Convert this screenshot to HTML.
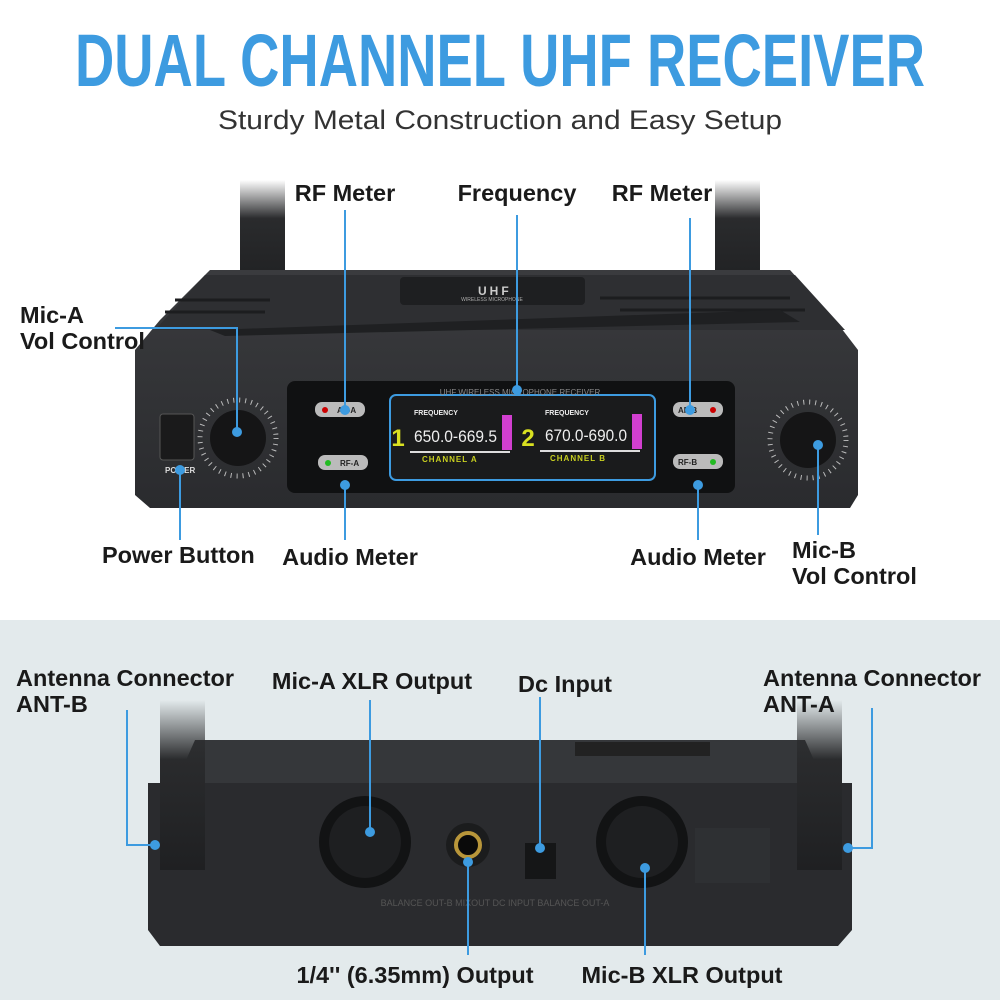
<!DOCTYPE html>
<html><head><meta charset="utf-8"><style>
html,body{margin:0;padding:0;background:#fff}
svg{display:block}
text{font-family:"Liberation Sans",sans-serif}
.lb{font-weight:bold;font-size:23.5px;fill:#1a1a1a}
</style></head><body>
<svg width="1000" height="1000" viewBox="0 0 1000 1000" xmlns="http://www.w3.org/2000/svg">
<defs>
<linearGradient id="ant" x1="0" y1="0" x2="0" y2="1">
<stop offset="0" stop-color="#2a2b2d" stop-opacity="0"/><stop offset="0.35" stop-color="#2a2b2d"/><stop offset="1" stop-color="#1f2022"/>
</linearGradient>
<linearGradient id="body" x1="0" y1="0" x2="0" y2="1">
<stop offset="0" stop-color="#3a3b3e"/><stop offset="1" stop-color="#2a2b2e"/>
</linearGradient>
</defs>
<rect width="1000" height="620" fill="#fff"/>
<rect y="620" width="1000" height="380" fill="#e3eaec"/>
<text x="500" y="86" text-anchor="middle" font-size="74" font-weight="bold" fill="#3d9be0" textLength="850" lengthAdjust="spacingAndGlyphs">DUAL CHANNEL UHF RECEIVER</text>
<text x="500" y="129" text-anchor="middle" font-size="27" fill="#333" textLength="564" lengthAdjust="spacingAndGlyphs">Sturdy Metal Construction and Easy Setup</text>

<!-- top device -->
<rect x="240" y="180" width="45" height="110" fill="url(#ant)"/>
<rect x="715" y="180" width="45" height="110" fill="url(#ant)"/>
<path d="M210 270 L790 270 L835 320 L858 350 L858 495 L850 508 L150 508 L135 495 L135 350 L160 320 Z" fill="url(#body)"/>
<path d="M205 275 L795 275 L845 330 L155 330 Z" fill="#2e2f32"/>
<g stroke="#1c1d1f" stroke-width="3"><path d="M175 300 H270 M165 312 H265 M600 298 H790 M620 310 H805"/></g>
<rect x="400" y="277" width="185" height="28" rx="4" fill="#1e1f21"/>
<text x="478" y="295" font-size="12" font-weight="bold" fill="#ccc" letter-spacing="3">UHF</text>
<text x="492" y="301" font-size="5" fill="#aaa" text-anchor="middle">WIRELESS MICROPHONE</text>
<path d="M210 330 L780 310 L800 322 L225 336 Z" fill="#1f2022"/>
<rect x="287" y="381" width="448" height="112" rx="8" fill="#101112"/>
<rect x="390" y="395" width="265" height="85" rx="6" fill="#1a1b1c" stroke="#3d9be0" stroke-width="2"/>
<text x="520" y="395" font-size="8" fill="#888" text-anchor="middle">UHF WIRELESS MICROPHONE RECEIVER</text>
<text x="398" y="446" font-size="24" font-weight="bold" fill="#d9e021" text-anchor="middle">1</text>
<text x="528" y="446" font-size="24" font-weight="bold" fill="#d9e021" text-anchor="middle">2</text>
<text x="414" y="415" font-size="7" font-weight="bold" fill="#eee">FREQUENCY</text>
<text x="545" y="415" font-size="7" font-weight="bold" fill="#eee">FREQUENCY</text>
<text x="414" y="442" font-size="17" fill="#eee" textLength="83" lengthAdjust="spacingAndGlyphs">650.0-669.5</text>
<text x="545" y="441" font-size="17" fill="#eee" textLength="82" lengthAdjust="spacingAndGlyphs">670.0-690.0</text>
<rect x="502" y="415" width="10" height="35" fill="#d23fd0"/>
<rect x="632" y="414" width="10" height="35" fill="#d23fd0"/>
<rect x="410" y="451" width="100" height="2" fill="#ddd"/>
<rect x="540" y="450" width="100" height="2" fill="#ddd"/>
<text x="422" y="462" font-size="8" font-weight="bold" fill="#c8cf20" letter-spacing="1">CHANNEL  A</text>
<text x="550" y="461" font-size="8" font-weight="bold" fill="#c8cf20" letter-spacing="1">CHANNEL  B</text>
<g font-size="8" font-weight="bold" fill="#222">
<rect x="315" y="402" width="50" height="15" rx="7" fill="#bbb"/><circle cx="325" cy="410" r="3" fill="#c00"/><text x="337" y="413">AF-A</text>
<rect x="318" y="455" width="50" height="15" rx="7" fill="#bbb"/><circle cx="328" cy="463" r="3" fill="#2b2"/><text x="340" y="466">RF-A</text>
<rect x="673" y="402" width="50" height="15" rx="7" fill="#bbb"/><circle cx="713" cy="410" r="3" fill="#c00"/><text x="678" y="413">AF-B</text>
<rect x="673" y="454" width="50" height="15" rx="7" fill="#bbb"/><circle cx="713" cy="462" r="3" fill="#2b2"/><text x="678" y="465">RF-B</text>
</g>
<rect x="160" y="414" width="34" height="46" rx="3" fill="#1a1a1b" stroke="#555"/>
<text x="165" y="473" font-size="8" font-weight="bold" fill="#ddd">POWER</text>
<circle cx="238" cy="438" r="38" fill="none" stroke="#ddd" stroke-width="5" stroke-dasharray="1 5" opacity=".8"/>
<circle cx="238" cy="438" r="28" fill="#151516"/>
<circle cx="808" cy="440" r="38" fill="none" stroke="#ddd" stroke-width="5" stroke-dasharray="1 5" opacity=".8"/>
<circle cx="808" cy="440" r="28" fill="#151516"/>

<!-- bottom device -->
<path d="M175 785 L195 740 L805 740 L825 785 Z" fill="#35373a"/>
<rect x="575" y="742" width="135" height="14" fill="#222"/>
<path d="M148 783 L852 783 L852 930 L838 946 L160 946 L148 930 Z" fill="#2a2b2e"/>
<rect x="160" y="700" width="45" height="170" fill="url(#ant)"/>
<rect x="797" y="700" width="45" height="170" fill="url(#ant)"/>
<circle cx="365" cy="842" r="46" fill="#121314"/>
<circle cx="365" cy="842" r="36" fill="#1e1f21"/>
<circle cx="642" cy="842" r="46" fill="#121314"/>
<circle cx="642" cy="842" r="36" fill="#1e1f21"/>
<circle cx="468" cy="845" r="22" fill="#1b1c1d"/>
<circle cx="468" cy="845" r="12" fill="#0a0a0a" stroke="#b8963a" stroke-width="4"/>
<rect x="525" y="843" width="31" height="36" fill="#151617"/>
<rect x="695" y="828" width="75" height="55" fill="#2e3033"/>
<text x="495" y="906" font-size="9" fill="#555" text-anchor="middle">BALANCE OUT-B      MIXOUT   DC INPUT     BALANCE OUT-A</text>

<!-- connectors -->
<g stroke="#3d9be0" stroke-width="2" fill="none">
<path d="M345 210 V410"/><path d="M517 215 V390"/><path d="M690 218 V410"/>
<path d="M115 328 H237 V432"/><path d="M180 470 V540"/><path d="M345 485 V540"/>
<path d="M698 485 V540"/><path d="M818 445 V535"/>
<path d="M127 710 V845 H155"/><path d="M370 700 V832"/><path d="M540 697 V848"/>
<path d="M872 708 V848 H848"/><path d="M468 862 V955"/><path d="M645 868 V955"/>
</g>
<g fill="#3d9be0">
<circle cx="345" cy="410" r="5"/><circle cx="517" cy="390" r="5"/><circle cx="690" cy="410" r="5"/>
<circle cx="237" cy="432" r="5"/><circle cx="180" cy="470" r="5"/><circle cx="345" cy="485" r="5"/>
<circle cx="698" cy="485" r="5"/><circle cx="818" cy="445" r="5"/>
<circle cx="155" cy="845" r="5"/><circle cx="370" cy="832" r="5"/><circle cx="540" cy="848" r="5"/>
<circle cx="848" cy="848" r="5"/><circle cx="468" cy="862" r="5"/><circle cx="645" cy="868" r="5"/>
</g>

<!-- labels -->
<text class="lb" x="345" y="201" text-anchor="middle">RF Meter</text>
<text class="lb" x="517" y="201" text-anchor="middle">Frequency</text>
<text class="lb" x="662" y="201" text-anchor="middle">RF Meter</text>
<text class="lb" x="20" y="323">Mic-A</text>
<text class="lb" x="20" y="349">Vol Control</text>
<text class="lb" x="102" y="563">Power Button</text>
<text class="lb" x="350" y="565" text-anchor="middle">Audio Meter</text>
<text class="lb" x="698" y="565" text-anchor="middle">Audio Meter</text>
<text class="lb" x="792" y="558">Mic-B</text>
<text class="lb" x="792" y="584">Vol Control</text>
<text class="lb" x="16" y="686">Antenna Connector</text>
<text class="lb" x="16" y="712">ANT-B</text>
<text class="lb" x="372" y="689" text-anchor="middle">Mic-A XLR Output</text>
<text class="lb" x="565" y="692" text-anchor="middle">Dc Input</text>
<text class="lb" x="763" y="686">Antenna Connector</text>
<text class="lb" x="763" y="712">ANT-A</text>
<text class="lb" x="415" y="983" text-anchor="middle">1/4'' (6.35mm) Output</text>
<text class="lb" x="682" y="983" text-anchor="middle">Mic-B XLR Output</text>
</svg>
</body></html>
